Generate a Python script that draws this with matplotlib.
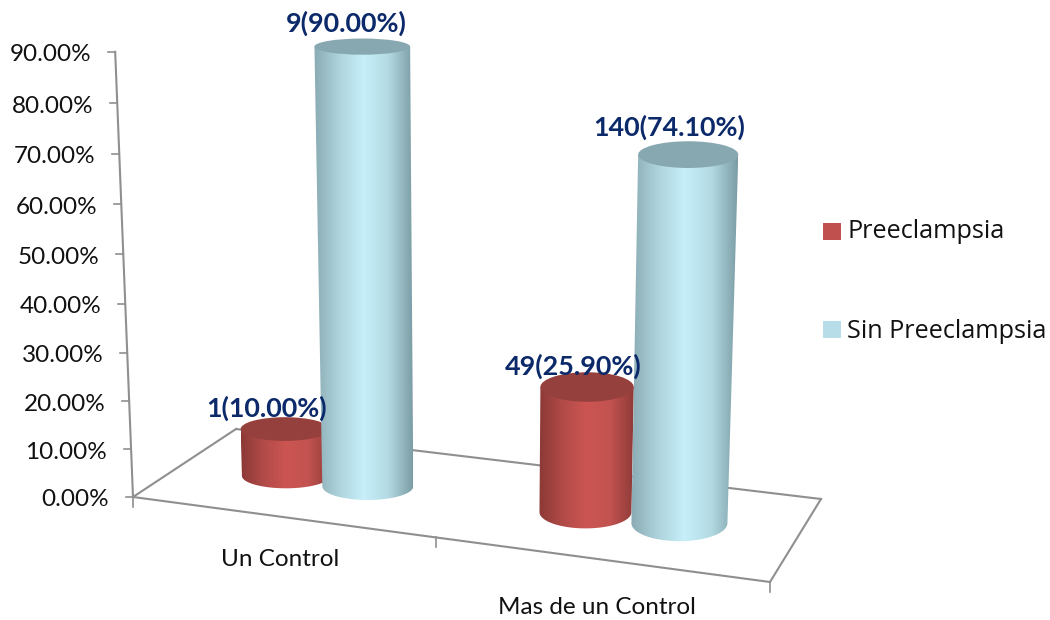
import numpy as np
import matplotlib
matplotlib.use("Agg")
import matplotlib.pyplot as plt
from matplotlib.colors import LinearSegmentedColormap
from matplotlib.patches import Ellipse, Polygon, Rectangle

categories = ["Un Control", "Mas de un Control"]
series_names = ["Preeclampsia", "Sin Preeclampsia"]
preeclampsia_n = [1, 49]
preeclampsia_pct = [10.0, 25.9]
sin_preeclampsia_n = [9, 140]
sin_preeclampsia_pct = [90.0, 74.1]
y_ticks = [0, 10, 20, 30, 40, 50, 60, 70, 80, 90]

# floor of the 3d box, figure pixels
FL = np.array([133.0, 497.0])
FR = np.array([770.0, 582.0])
BL = np.array([236.0, 429.0])
BR = np.array([821.0, 499.0])
FAN_X = 475.0  # verticals spread out from here as they rise
FAN = 1.17e-4
GREY = "#8f8f8f"
NAVY = "#0c2a6a"

plt.rcParams["font.family"] = ["Lato", "DejaVu Sans"]

fig = plt.figure(figsize=(10.5, 6.2), dpi=100)
ax = fig.add_axes([0, 0, 1, 1])


def floor_point(u, w):
    front = (1 - u) * FL + u * FR
    back = (1 - u) * BL + u * BR
    return (1 - w) * front + w * back


def rise(v):
    # pixels above the floor for a percentage, bigger towards the top
    return 4.75 * v * (1 + 0.00046 * v)


def lift(x, h):
    return x + (x - FAN_X) * FAN * h


def squash(x, y):
    # how flat a disc looks at this spot
    return 0.17 + 3e-4 * (y - 48) + 2e-4 * (x - 365)


def cylinder(u, w, value, half_width, cmap, cap_color, zorder):
    x0, y0 = floor_point(u, w)
    h = rise(value) * (1.005 + 8e-5 * (x0 - 586))
    x1 = lift(x0, h)
    y1 = y0 - h
    a0 = half_width
    a1 = half_width * (1 + FAN * h)
    b0 = a0 * squash(x0, y0)
    b1 = a1 * squash(x1, y1)

    # side of the cylinder: edges plus the lower half of the base disc
    t = np.linspace(np.pi, 0, 60)
    base_x = x0 + a0 * np.cos(t)
    base_y = y0 + b0 * np.sin(t)
    outline = np.vstack([[x1 - a1, y1], np.column_stack([base_x, base_y]), [x1 + a1, y1]])
    body = Polygon(outline, closed=True, facecolor="none", edgecolor="none")
    ax.add_patch(body)
    left = min(x0 - a0, x1 - a1)
    right = max(x0 + a0, x1 + a1)
    grad = np.linspace(0, 1, 256).reshape(1, -1)
    im = ax.imshow(grad, cmap=cmap, extent=[left, right, y0 + b0 + 1, y1 - 1],
                   aspect="auto", zorder=zorder, interpolation="bilinear")
    im.set_clip_path(body)
    ax.add_patch(Ellipse((x1, y1), 2 * a1, 2 * b1, facecolor=cap_color, edgecolor="none", zorder=zorder + 0.1))
    return x1, y1


# floor outline and y axis
top_x = lift(FL[0], rise(90))
ax.plot([FL[0], top_x], [FL[1], FL[1] - rise(90)], color=GREY, lw=1.5, zorder=1)
for a, b in [(FL, FR), (FR, BR), (BR, BL), (BL, FL)]:
    ax.plot([a[0], b[0]], [a[1], b[1]], color=GREY, lw=1.5, zorder=1)
for u in [0, 0.476, 1]:
    p = (1 - u) * FL + u * FR
    ax.plot([p[0], p[0]], [p[1], p[1] + 10], color=GREY, lw=1.2, zorder=1)

for v in y_ticks:
    h = rise(v)
    tx = lift(FL[0], h)
    ty = FL[1] - h
    ax.plot([tx - 7, tx], [ty, ty], color=GREY, lw=1.2, zorder=1)
    ax.text(tx - 24, ty + 3, f"{v:.2f}%", ha="right", va="center", fontsize=17.5, color="#111111")

red_cmap = LinearSegmentedColormap.from_list("red", ["#8c3936", "#b14b48", "#cc5552", "#c25350", "#8f3b38"])
blue_cmap = LinearSegmentedColormap.from_list("blue", ["#8aabb3", "#aed3dc", "#c6eff9", "#b4dbe4", "#7c9da5"])

# columns, drawn back to front per category
column_u = [0.166, 0.30, 0.654, 0.807]
column_w = [0.5, 0.5, 0.52, 0.53]
half_widths = [44, 45.5, 46, 48]
label_nudge = [(-18, -21), (-16, -23), (-14, -21), (-19, -27)]
columns = []
for i in range(len(categories)):
    columns.append((preeclampsia_n[i], preeclampsia_pct[i], red_cmap, "#96403d"))
    columns.append((sin_preeclampsia_n[i], sin_preeclampsia_pct[i], blue_cmap, "#87a7b1"))

tops = []
for k, (n, pct, cmap, cap) in enumerate(columns):
    tops.append(cylinder(column_u[k], column_w[k], pct, half_widths[k], cmap, cap, 2 + k))

for k, (n, pct, cmap, cap) in enumerate(columns):
    dx, dy = label_nudge[k]
    ax.text(tops[k][0] + dx, tops[k][1] + dy, f"{n}({pct:.2f}%)", ha="center", va="center",
            fontsize=19.4, fontweight="bold", color=NAVY, zorder=10)

ax.text(280, 560, categories[0], ha="center", va="center", fontsize=17.5, color="#111111")
ax.text(597, 608, categories[1], ha="center", va="center", fontsize=17.5, color="#111111")

# legend
ax.add_patch(Rectangle((823, 223), 18, 17, facecolor="#c0504d", edgecolor="none"))
ax.add_patch(Rectangle((823, 321), 18, 17, facecolor="#b7dee8", edgecolor="none"))
ax.text(847, 232, series_names[0], va="center", ha="left", fontsize=18.2, color="#111111", family="Open Sans")
ax.text(847, 331, series_names[1], va="center", ha="left", fontsize=18.2, color="#111111", family="Open Sans")

ax.set_xlim(0, 1050)
ax.set_ylim(620, 0)
ax.axis("off")
fig.savefig("out.png", dpi=100)
